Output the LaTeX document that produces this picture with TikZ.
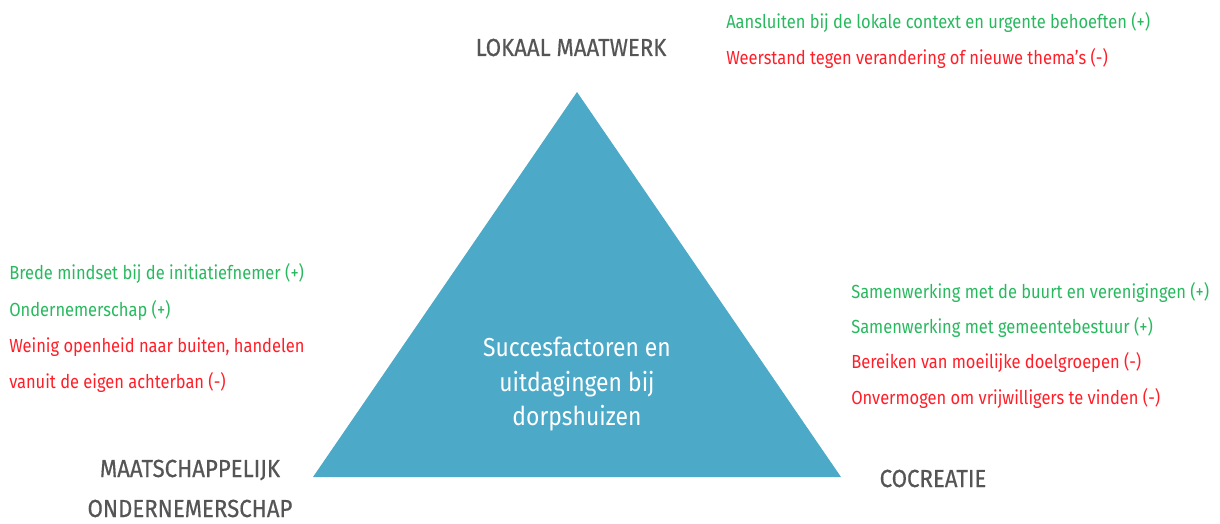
\documentclass[tikz,border=0pt]{standalone}
\usepackage{fontspec}
\setmainfont[FakeStretch=0.87]{Fira Sans}
\newfontfamily\headfont[FakeStretch=0.9,FakeBold=0.5]{Fira Sans}
\newfontfamily\centrefont[FakeStretch=0.88]{Fira Sans}
\definecolor{tealc}{RGB}{76,169,200}
\definecolor{plusc}{RGB}{40,185,95}
\definecolor{minc}{RGB}{255,30,40}
\definecolor{headc}{RGB}{85,85,85}
\tikzset{
  item/.style={anchor=base west, inner sep=0pt, font=\fontsize{14.2pt}{17pt}\selectfont},
  plus/.style={item, text=plusc},
  minus/.style={item, text=minc},
  head/.style={anchor=base, inner sep=0pt, text=headc, font=\headfont\fontsize{18.5pt}{22pt}\selectfont},
  centre/.style={anchor=base, inner sep=0pt, text=white, font=\centrefont\fontsize{19.5pt}{24pt}\selectfont}
}
\begin{document}
\begin{tikzpicture}[x=0.75pt,y=-0.75pt]
\useasboundingbox (0,0) rectangle (1220,524);
% triangle
\coordinate (apex) at (577,92);
\coordinate (bl) at (313,477);
\coordinate (br) at (841,477);
\fill[tealc] (apex) -- (br) -- (bl) -- cycle;
\node[centre] (c1) at (577,356) {Succesfactoren en};
\node[centre] (c2) at (577,391) {uitdagingen bij};
\node[centre] (c3) at (577,425) {dorpshuizen};
% headings
\node[head] (h1) at (571,56) {LOKAAL MAATWERK};
\node[head] (h2) at (190,477) {MAATSCHAPPELIJK};
\node[head] (h3) at (190,517) {ONDERNEMERSCHAP};
\node[head] (h4) at (933,487) {COCREATIE};
% top-right
\node[plus] (t1) at (726,29) {Aansluiten bij de lokale context en urgente behoeften (+)};
\node[minus] (t2) at (726,65) {Weerstand tegen verandering of nieuwe thema's (-)};
% left
\node[plus] (l1) at (9,279) {Brede mindset bij de initiatiefnemer (+)};
\node[plus] (l2) at (9,316) {Ondernemerschap (+)};
\node[minus] (l3) at (9,352) {Weinig openheid naar buiten, handelen};
\node[minus] (l4) at (9,388) {vanuit de eigen achterban (-)};
% right
\node[plus] (r1) at (851,298) {Samenwerking met de buurt en verenigingen (+)};
\node[plus] (r2) at (851,333) {Samenwerking met gemeentebestuur (+)};
\node[minus] (r3) at (851,368) {Bereiken van moeilijke doelgroepen (-)};
\node[minus] (r4) at (851,404) {Onvermogen om vrijwilligers te vinden (-)};
\end{tikzpicture}
\end{document}
